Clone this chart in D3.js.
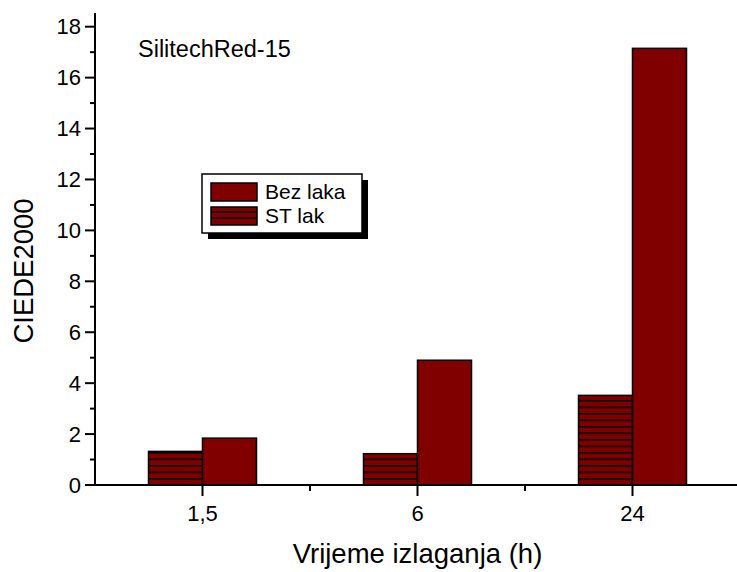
<!DOCTYPE html>
<html>
<head>
<meta charset="utf-8">
<script src="https://cdn.jsdelivr.net/npm/d3@7"></script>
<style>
  body { margin: 0; background: #fff; }
  svg { display: block; font-family: "Liberation Sans", Arial, sans-serif; }
</style>
</head>
<body>
<svg id="chart" width="737" height="572"></svg>
<script>
// data
const categories = ['1,5', '6', '24'];
const seriesNames = ['ST lak', 'Bez laka'];
const stLak   = [1.32, 1.23, 3.52];
const bezLaka = [1.84, 4.90, 17.15];
const yTicks  = [0, 2, 4, 6, 8, 10, 12, 14, 16, 18];

const svg = d3.select('#chart');
const maroon = '#800000';

// plot area
const x0 = 95, x1 = 740, yBot = 485, yTop = 13;

const x = d3.scaleBand().domain(categories).range([x0, x1]).padding(0);
const barW = 54;
const xs = d3.scaleBand().domain(seriesNames)
  .range([x.bandwidth() / 2 - barW, x.bandwidth() / 2 + barW]).padding(0);
const y = d3.scaleLinear().domain([0, 18]).range([yBot, 26.7]);

// hatch pattern for ST lak
const defs = svg.append('defs');
defs.append('pattern')
  .attr('id', 'hatch').attr('patternUnits', 'userSpaceOnUse')
  .attr('width', 10).attr('height', 6.5)
  .attr('y', yBot % 6.5 - 0.5)
  .call(p => {
    p.append('rect').attr('width', 10).attr('height', 6.5).attr('fill', maroon);
    p.append('line').attr('x1', 0).attr('x2', 10).attr('y1', 0.75).attr('y2', 0.75)
      .attr('stroke', '#000').attr('stroke-width', 1.5);
  });

const fillFor = s => s === 'ST lak' ? 'url(#hatch)' : maroon;

// bars
const rows = categories.map((c, i) => ({ cat: c, values: [
  { s: 'ST lak', v: stLak[i] }, { s: 'Bez laka', v: bezLaka[i] } ] }));

const groups = svg.append('g').selectAll('g').data(rows).join('g')
  .attr('transform', d => `translate(${x(d.cat)},0)`);
groups.selectAll('rect').data(d => d.values).join('rect')
  .attr('x', d => xs(d.s)).attr('width', xs.bandwidth())
  .attr('y', d => y(d.v)).attr('height', d => yBot - y(d.v))
  .attr('fill', d => fillFor(d.s))
  .attr('stroke', '#000').attr('stroke-width', 1.5);

// y axis
const yAxis = svg.append('g');
yAxis.append('line').attr('x1', x0).attr('x2', x0).attr('y1', yTop).attr('y2', yBot + 1)
  .attr('stroke', '#000').attr('stroke-width', 2);
yTicks.forEach(t => {
  yAxis.append('line').attr('x1', x0 - 10).attr('x2', x0).attr('y1', y(t)).attr('y2', y(t))
    .attr('stroke', '#000').attr('stroke-width', 2);
  yAxis.append('text').attr('x', x0 - 14).attr('y', y(t)).attr('dy', '0.35em')
    .attr('text-anchor', 'end').attr('font-size', 22).text(t);
  if (t < 18) {
    const m = y(t + 1);
    yAxis.append('line').attr('x1', x0 - 5).attr('x2', x0).attr('y1', m).attr('y2', m)
      .attr('stroke', '#000').attr('stroke-width', 2);
  }
});

// x axis
const xAxis = svg.append('g');
xAxis.append('line').attr('x1', x0 - 1).attr('x2', x1).attr('y1', yBot).attr('y2', yBot)
  .attr('stroke', '#000').attr('stroke-width', 2);
categories.forEach(c => {
  const cx = x(c) + x.bandwidth() / 2;
  xAxis.append('line').attr('x1', cx).attr('x2', cx).attr('y1', yBot).attr('y2', yBot + 11)
    .attr('stroke', '#000').attr('stroke-width', 2);
  xAxis.append('text').attr('x', cx).attr('y', 521)
    .attr('text-anchor', 'middle').attr('font-size', 22).text(c);
  const edge = x(c) + x.bandwidth();
  xAxis.append('line').attr('x1', edge).attr('x2', edge).attr('y1', yBot).attr('y2', yBot + 6)
    .attr('stroke', '#000').attr('stroke-width', 2);
});

// axis titles
svg.append('text').attr('x', (x0 + x1) / 2).attr('y', 563)
  .attr('text-anchor', 'middle').attr('font-size', 27.5).text('Vrijeme izlaganja (h)');
svg.append('text').attr('transform', 'translate(33,271) rotate(-90)')
  .attr('text-anchor', 'middle').attr('font-size', 27.5).text('CIEDE2000');

// sample label
svg.append('text').attr('x', 138).attr('y', 57).attr('font-size', 23.5).text('SilitechRed-15');

// legend
const lg = svg.append('g').attr('transform', 'translate(202,174)');
lg.append('rect').attr('x', 6).attr('y', 6).attr('width', 160).attr('height', 59).attr('fill', '#000');
lg.append('rect').attr('width', 160).attr('height', 59)
  .attr('fill', '#fff').attr('stroke', '#000').attr('stroke-width', 1.5);
['Bez laka', 'ST lak'].forEach((s, i) => {
  const yy = 9 + i * 24;
  lg.append('rect').attr('x', 9).attr('y', yy).attr('width', 46).attr('height', 18)
    .attr('fill', maroon).attr('stroke', '#000').attr('stroke-width', 1.5);
  if (s === 'ST lak') {
    [yy + 5, yy + 11].forEach(ly => lg.append('line')
      .attr('x1', 9).attr('x2', 55).attr('y1', ly).attr('y2', ly)
      .attr('stroke', '#000').attr('stroke-width', 1.5));
  }
  lg.append('text').attr('x', 63).attr('y', yy + 16).attr('font-size', 21).text(s);
});
</script>
</body>
</html>
